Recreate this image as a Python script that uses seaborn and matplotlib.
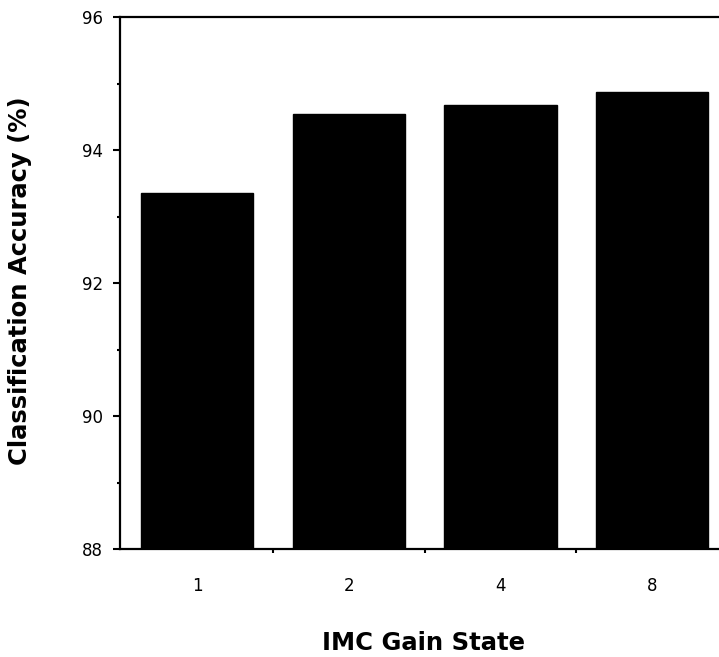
import matplotlib
matplotlib.use("Agg")
import matplotlib.pyplot as plt
import seaborn as sns
import pandas as pd
from matplotlib.ticker import MultipleLocator, FixedLocator

# --- DATA ---
gain_states = ["1", "2", "4", "8"]
accuracy = [93.35, 94.54, 94.68, 94.88]

df = pd.DataFrame({"gain": gain_states, "acc": accuracy})

sns.set_style("white")
plt.rcParams['font.family'] = ['DejaVu Sans']
plt.rcParams['text.color'] = 'black'
plt.rcParams['axes.labelcolor'] = 'black'
plt.rcParams['xtick.color'] = 'black'
plt.rcParams['ytick.color'] = 'black'

fig = plt.figure(figsize=(7.19, 6.57), dpi=100)
ax = fig.add_axes([0.1669, 0.1644, 0.8331, 0.8096])

sns.barplot(data=df, x="gain", y="acc", order=gain_states, color="black",
            width=0.74, saturation=1, edgecolor="black", ax=ax)

ax.set_ylim(88, 96)
ax.set_xlim(-0.507, 3.44)

# spines
for s in ["left", "bottom", "top"]:
    ax.spines[s].set_linewidth(1.6)
    ax.spines[s].set_color("black")
ax.spines["right"].set_visible(False)

# y ticks
ax.yaxis.set_major_locator(MultipleLocator(2))
ax.yaxis.set_minor_locator(MultipleLocator(1))
ax.tick_params(axis="y", which="major", left=True, direction="out", length=5,
               width=1.5, pad=7, labelsize=12)
ax.tick_params(axis="y", which="minor", left=True, direction="out", length=2, width=1.5)

# x ticks: labels under bars, small marks between bars
ax.xaxis.set_minor_locator(FixedLocator([0.5, 1.5, 2.5]))
ax.tick_params(axis="x", which="major", bottom=True, length=0, pad=20, labelsize=12)
ax.tick_params(axis="x", which="minor", bottom=True, direction="out", length=3, width=1.5)

ax.set_xlabel("IMC Gain State", fontsize=17.5, fontweight="bold", va="center")
ax.set_ylabel("Classification Accuracy (%)", fontsize=17.5, fontweight="bold", va="center")
ax.xaxis.set_label_coords(0.507, -0.177)
ax.yaxis.set_label_coords(-0.167, 0.504)

fig.savefig("out.png", dpi=100)
